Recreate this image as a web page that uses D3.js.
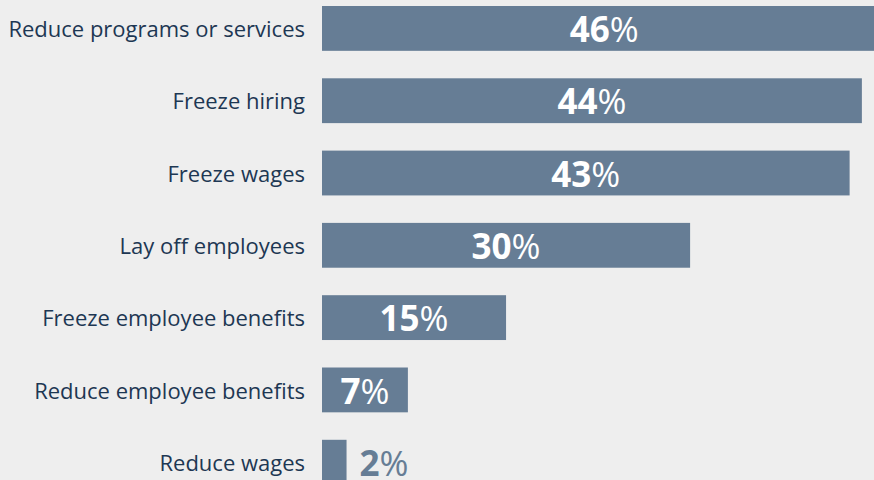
<!DOCTYPE html>
<html>
<head>
<meta charset="utf-8">
<script src="https://cdn.jsdelivr.net/npm/d3@7"></script>
<style>
  html, body { margin: 0; padding: 0; background: #eeeeee; }
  svg { display: block; }
</style>
</head>
<body>
<div id="chart"></div>
<script>
// data
var categories = [
  "Reduce programs or services",
  "Freeze hiring",
  "Freeze wages",
  "Lay off employees",
  "Freeze employee benefits",
  "Reduce employee benefits",
  "Reduce wages"
];
var values = [46, 44, 43, 30, 15, 7, 2];

var width = 874, height = 480;
var margin = { top: 6, left: 322 };
var step = 72.3, pad = 0.38;
var barColor = "#667d95";

var svg = d3.select("#chart").append("svg")
  .attr("width", width)
  .attr("height", height);

svg.append("rect").attr("width", width).attr("height", height).attr("fill", "#eeeeee");

var x = d3.scaleLinear().domain([0, 1]).range([0, 12.27]);
var y = d3.scaleBand()
  .domain(categories)
  .range([margin.top, margin.top + step * (categories.length - pad)])
  .paddingInner(pad)
  .paddingOuter(0);

var rows = svg.append("g").selectAll("g")
  .data(categories)
  .enter().append("g");

// category labels
rows.append("text")
  .attr("x", 305)
  .attr("y", function (d) { return y(d) + y.bandwidth() / 2 + 1; })
  .attr("dy", "0.35em")
  .attr("text-anchor", "end")
  .attr("font-family", "'Open Sans', sans-serif")
  .attr("font-size", 22)
  .attr("fill", "#1d3753")
  .text(function (d) { return d; });

// bars
rows.append("rect")
  .attr("x", margin.left)
  .attr("y", function (d) { return y(d); })
  .attr("height", y.bandwidth())
  .attr("width", function (d, i) { return x(values[i]); })
  .attr("fill", barColor);

// value labels
var labels = rows.append("text")
  .attr("x", function (d, i) {
    var w = x(values[i]);
    return w > 60 ? margin.left + w / 2 : margin.left + w + 13;
  })
  .attr("y", function (d) { return y(d) + y.bandwidth() / 2 + 1; })
  .attr("dy", "0.36em")
  .attr("text-anchor", function (d, i) { return x(values[i]) > 60 ? "middle" : "start"; })
  .attr("font-family", "'Open Sans', sans-serif")
  .attr("font-size", 35)
  .attr("fill", function (d, i) { return x(values[i]) > 60 ? "#ffffff" : barColor; });

labels.append("tspan")
  .attr("font-weight", "bold")
  .text(function (d, i) { return values[i]; });
labels.append("tspan")
  .text("%");
</script>
</body>
</html>
